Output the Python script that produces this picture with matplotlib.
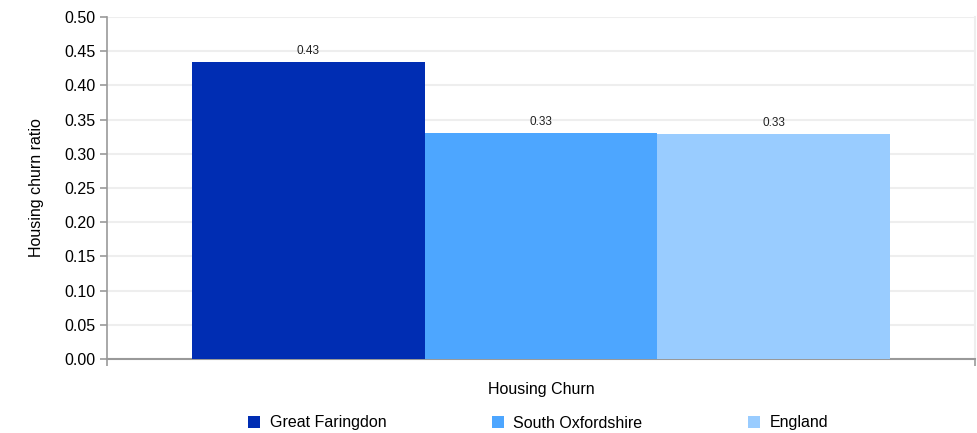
import numpy as np
import matplotlib.pyplot as plt

plt.rcParams['font.family'] = ['Liberation Sans', 'DejaVu Sans']

category = 'Housing Churn'
series = ['Great Faringdon', 'South Oxfordshire', 'England']
values = [0.434, 0.330, 0.329]
labels = ['0.43', '0.33', '0.33']
colors = ['#002db3', '#4da6ff', '#99ccff']

fig = plt.figure(figsize=(9.78, 4.33), dpi=100)
ax = fig.add_axes([0.1094, 0.1709, 0.8876, 0.7898])

group_w = 0.805
bar_w = group_w / len(series)
offsets = (np.arange(len(series)) - (len(series) - 1) / 2) * bar_w

for off, v, lab, c, name in zip(offsets, values, labels, colors, series):
    ax.bar(off, v, width=bar_w, color=c, label=name, zorder=3)
    ax.text(off, v + 0.008, lab, ha='center', va='bottom', fontsize=8.5, color='#222222')

ax.set_xlim(-0.5, 0.5)
ax.set_ylim(0, 0.5)
ax.set_yticks(np.arange(0, 0.51, 0.05))
ax.set_yticklabels([f'{t:.2f}' for t in np.arange(0, 0.51, 0.05)], fontsize=11.5)
ax.set_xticks([-0.5, 0.5])
ax.set_xticklabels(['', ''])
ax.tick_params(axis='both', direction='out', length=5, color='#999999', width=1.2)
ax.grid(axis='y', color='#eeeeee', linewidth=1.5, zorder=0)

ax.spines['top'].set_visible(False)
ax.spines['right'].set_color('#eeeeee')
ax.spines['right'].set_linewidth(1.5)
ax.spines['left'].set_color('#999999')
ax.spines['bottom'].set_color('#999999')
ax.spines['left'].set_linewidth(1.2)
ax.spines['bottom'].set_linewidth(1.5)

ax.set_ylabel('Housing churn ratio', fontsize=11.5, labelpad=14)
ax.set_xlabel(category, fontsize=11.5, labelpad=8)

fig.legend(*ax.get_legend_handles_labels(), loc='center',
           bbox_to_anchor=(538 / 978, 1 - 423 / 433), ncol=3, frameon=False,
           fontsize=11.5, handlelength=0.75, handleheight=0.75, columnspacing=6.6,
           handletextpad=0.6)

fig.savefig('out.png', dpi=100)
